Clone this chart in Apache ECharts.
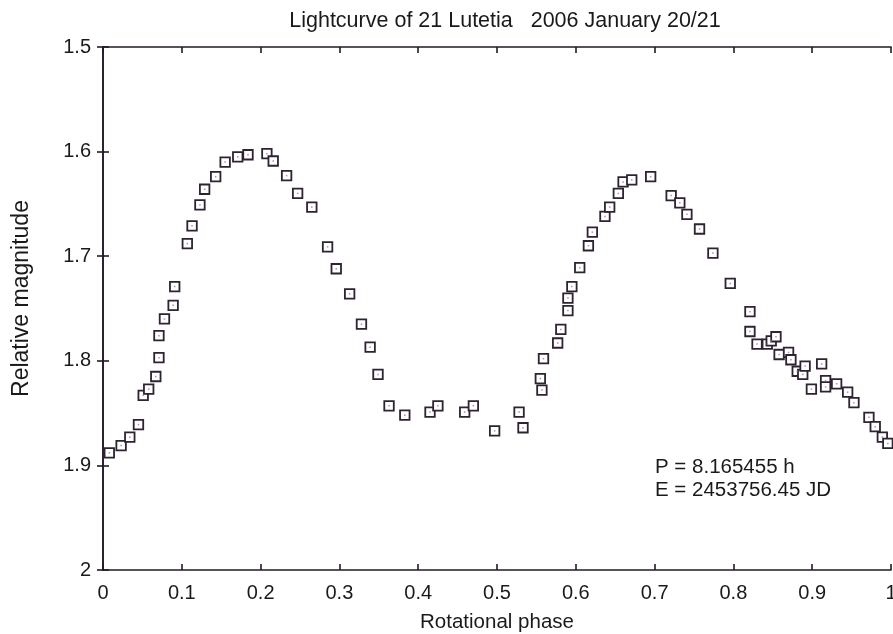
<!DOCTYPE html>
<html>
<head>
<meta charset="utf-8">
<script src="https://cdn.jsdelivr.net/npm/echarts@6/dist/echarts.min.js"></script>
<style>html,body{margin:0;padding:0;background:#fff;}#c{width:893px;height:634px;}</style>
</head>
<body>
<div id="c"></div>
<script>
var phase = [0.008,0.023,0.034,0.045,0.051,0.058,0.067,0.071,0.071,0.078,0.089,0.091,0.107,0.113,0.123,0.129,0.143,0.155,0.171,0.184,0.208,0.216,0.233,0.247,0.265,0.285,0.296,0.313,0.328,0.339,0.349,0.363,0.383,0.415,0.425,0.459,0.470,0.497,0.528,0.533,0.557,0.555,0.559,0.577,0.581,0.590,0.590,0.595,0.605,0.616,0.621,0.637,0.643,0.654,0.660,0.671,0.695,0.721,0.732,0.741,0.757,0.774,0.796,0.821,0.821,0.830,0.843,0.848,0.854,0.858,0.870,0.873,0.881,0.888,0.891,0.899,0.912,0.917,0.917,0.931,0.945,0.953,0.972,0.980,0.989,0.996];
var magnitude = [1.888,1.881,1.873,1.861,1.833,1.827,1.815,1.797,1.776,1.760,1.747,1.729,1.688,1.671,1.651,1.636,1.624,1.610,1.605,1.603,1.602,1.609,1.623,1.640,1.653,1.691,1.712,1.736,1.765,1.787,1.813,1.843,1.852,1.849,1.843,1.849,1.843,1.867,1.849,1.864,1.828,1.817,1.798,1.783,1.770,1.752,1.740,1.729,1.711,1.690,1.677,1.662,1.653,1.640,1.629,1.627,1.624,1.642,1.649,1.660,1.674,1.697,1.726,1.753,1.772,1.784,1.784,1.781,1.777,1.794,1.792,1.799,1.810,1.813,1.805,1.827,1.803,1.819,1.825,1.822,1.830,1.840,1.854,1.863,1.873,1.879];
var xTicks = ['0','0.1','0.2','0.3','0.4','0.5','0.6','0.7','0.8','0.9','1'];
var yTicks = ['1.5','1.6','1.7','1.8','1.9','2'];
var titleText = 'Lightcurve of 21 Lutetia   2006 January 20/21';
var noteLines = ['P = 8.165455 h', 'E = 2453756.45 JD'];

var pts = phase.map(function(p, i){ return [p, magnitude[i]]; });
var FONT = '"Liberation Sans", Arial, sans-serif';
var axisCol = '#231a26';
var textCol = '#1a1a1a';
var lineStyle = {color: axisCol, width: 1.6};

var chart = echarts.init(document.getElementById('c'), null, {renderer: 'canvas'});
chart.setOption({
  animation: false,
  backgroundColor: '#ffffff',
  title: {
    text: titleText, left: 500, top: 5, textAlign: 'center',
    textStyle: {fontFamily: FONT, fontSize: 21.5, fontWeight: 'normal', color: textCol}
  },
  grid: {left: 103, right: 2, top: 47, bottom: 64, containLabel: false, outerBoundsMode: 'none'},
  xAxis: [{
    type: 'value', min: 0, max: 1, interval: 0.1, position: 'bottom',
    name: 'Rotational phase', nameLocation: 'middle', nameGap: 42,
    nameTextStyle: {fontFamily: FONT, fontSize: 20.5, color: textCol},
    axisLine: {show: true, lineStyle: lineStyle},
    axisTick: {show: true, inside: true, length: 6, lineStyle: lineStyle},
    axisLabel: {margin: 13, fontFamily: FONT, fontSize: 20, color: textCol,
      formatter: function(v){ return xTicks[Math.round(v*10)]; }},
    splitLine: {show: false}
  },{
    type: 'value', min: 0, max: 1, interval: 0.1, position: 'top',
    axisLine: {show: true, lineStyle: lineStyle},
    axisTick: {show: true, inside: true, length: 6, lineStyle: lineStyle},
    axisLabel: {show: false}, splitLine: {show: false}
  }],
  yAxis: [{
    type: 'value', min: 1.5, max: 2, interval: 0.1, inverse: true, position: 'left',
    name: 'Relative magnitude', nameLocation: 'middle', nameGap: 70, nameRotate: 90,
    nameTextStyle: {fontFamily: FONT, fontSize: 23, color: textCol, padding: [0, 0, 0, 20]},
    axisLine: {show: true, lineStyle: lineStyle},
    axisTick: {show: true, inside: true, length: 6, lineStyle: lineStyle},
    axisLabel: {margin: 12, fontFamily: FONT, fontSize: 20, color: textCol,
      formatter: function(v){ return yTicks[Math.round((v-1.5)*10)]; }},
    splitLine: {show: false}
  },{
    type: 'value', min: 1.5, max: 2, interval: 0.1, inverse: true, position: 'right',
    axisLine: {show: true, lineStyle: lineStyle},
    axisTick: {show: true, inside: true, length: 6, lineStyle: lineStyle},
    axisLabel: {show: false}, splitLine: {show: false}
  }],
  series: [{
    type: 'scatter', data: pts, symbol: 'rect', symbolSize: 9.5,
    itemStyle: {color: '#ffffff', borderColor: '#2e2233', borderWidth: 1.8, opacity: 1}
  },{
    type: 'scatter', data: pts, symbol: 'rect', symbolSize: 1.5, silent: true,
    itemStyle: {color: '#8a7d8f'}
  }],
  graphic: [{
    type: 'text', left: 655, top: 456,
    style: {text: noteLines.join('\n'), fontFamily: FONT, fontSize: 20.5, lineHeight: 23, fill: textCol}
  }]
});
</script>
</body>
</html>
